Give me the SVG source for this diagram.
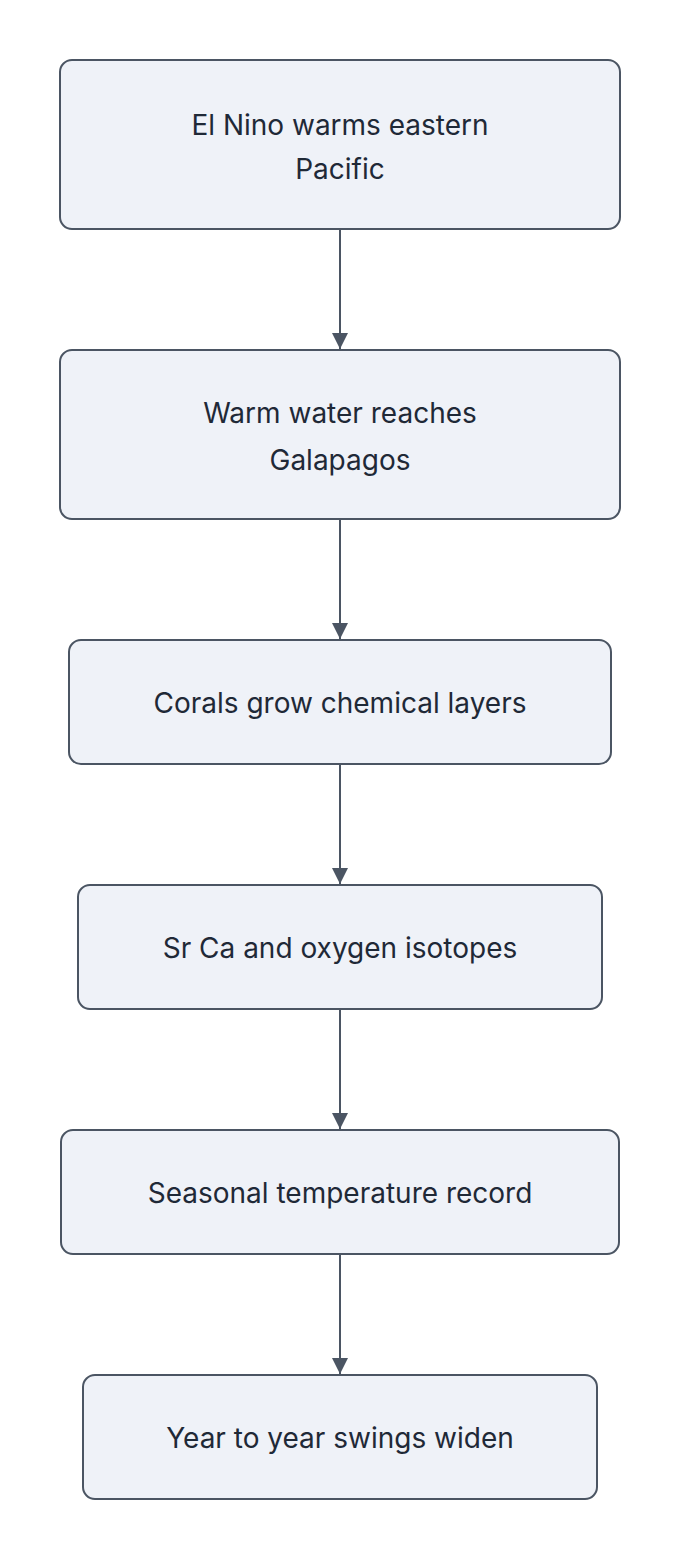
<svg xmlns="http://www.w3.org/2000/svg" width="680" height="1560" viewBox="0 0 680 1560">
<style>
.n rect{fill:#eff2f8;stroke:#4b5563;stroke-width:2}
.n text{font-family:Inter,"Noto Sans",sans-serif;font-size:28px;fill:#1f2937;text-anchor:middle;dominant-baseline:central}
.c line{stroke:#4b5563;stroke-width:2}
</style>
<defs><marker id="a" viewBox="0 0 10 10" refX="10" refY="5" markerWidth="16" markerHeight="16" markerUnits="userSpaceOnUse" orient="auto"><path d="M0,0L10,5L0,10z" fill="#4b5563"/></marker></defs>
<rect width="680" height="1560" fill="#fff"/>
<g class="c">
<line x1="340" y1="229" x2="340" y2="349" marker-end="url(#a)"/>
<line x1="340" y1="519" x2="340" y2="639" marker-end="url(#a)"/>
<line x1="340" y1="764" x2="340" y2="884" marker-end="url(#a)"/>
<line x1="340" y1="1009" x2="340" y2="1129" marker-end="url(#a)"/>
<line x1="340" y1="1254" x2="340" y2="1374" marker-end="url(#a)"/>
</g>
<g id="n1" class="n"><rect x="60" y="60" width="560" height="169" rx="12"/><text x="340" y="125">El Nino warms eastern</text><text x="340" y="169">Pacific</text></g>
<g id="n2" class="n"><rect x="60" y="350" width="560" height="169" rx="12"/><text x="340" y="413">Warm water reaches</text><text x="340" y="460">Galapagos</text></g>
<g id="n3" class="n"><rect x="69" y="640" width="542" height="124" rx="12"/><text x="340" y="703">Corals grow chemical layers</text></g>
<g id="n4" class="n"><rect x="78" y="885" width="524" height="124" rx="12"/><text x="340" y="948">Sr Ca and oxygen isotopes</text></g>
<g id="n5" class="n"><rect x="61" y="1130" width="558" height="124" rx="12"/><text x="340" y="1193">Seasonal temperature record</text></g>
<g id="n6" class="n"><rect x="83" y="1375" width="514" height="124" rx="12"/><text x="340" y="1438">Year to year swings widen</text></g>
</svg>
